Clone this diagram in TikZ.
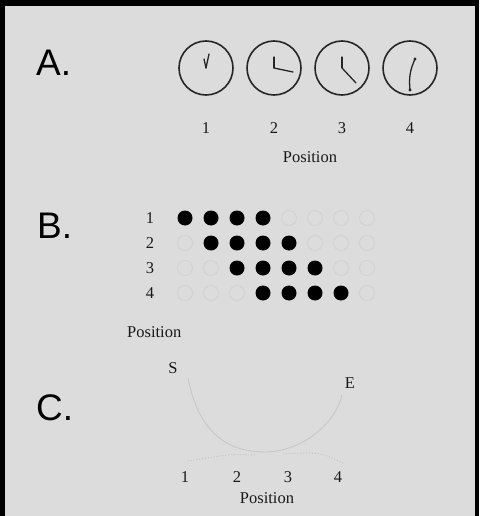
\documentclass[tikz,border=0pt]{standalone}
\usepackage{fontspec}
\setmainfont{Liberation Serif}
\newfontfamily\panelfont{Liberation Sans}
\definecolor{bggray}{HTML}{DCDCDC}
\definecolor{faint}{HTML}{D2D2D2}
\begin{document}
\begin{tikzpicture}[x=1pt,y=-1pt,
  clock/.style={circle,draw=black!85,line width=1.6pt,minimum size=54pt,inner sep=0pt},
  hand/.style={line width=1.3pt,black!85,line cap=round},
  num/.style={font=\fontsize{16.5}{16.5}\selectfont,text=black!90,inner sep=1pt},
  panel/.style={font=\panelfont\fontsize{37}{37}\selectfont,anchor=base west,inner sep=0pt},
  dot/.style={circle,fill=black,minimum size=15pt,inner sep=0pt},
  ghost/.style={circle,draw=faint,line width=.9pt,minimum size=15pt,inner sep=0pt},
  arcline/.style={black!22,line width=.9pt},
  trail/.style={black!25,line width=.9pt,dotted}]
\fill[black] (0,0) rectangle (479,516);
\fill[bggray] (5,6) rectangle (475,516);
\useasboundingbox (0,0) rectangle (479,516);
\node[panel] (lblA) at (36,76) {A.};
\node[panel] (lblB) at (37,238) {B.};
\node[panel] (lblC) at (36,420) {C.};
% A: clocks
\foreach \i/\x in {1/206,2/274,3/342,4/410}{
  \node[clock] (c\i) at (\x,68) {};
  \node[num] (n\i) at (\x,128) {\i};
}
\node[num] (posA) at (310,157) {Position};
\draw[hand] (c1.center) -- ++(3,-14);
\draw[hand] (c1.center) -- ++(-2,-9);
\draw[hand] (c2.center) -- ++(0,-11);
\draw[hand] (c2.center) -- ++(19,4);
\draw[hand] (c3.center) -- ++(0,-11);
\draw[hand] (c3.center) -- ++(14,15);
\draw[hand] (c4.center) ++(5,-9) to[bend right=15] ++(-5,31);
\fill[black!85] (c4.center) ++(5,-9) circle (1.7);
\fill[black!85] (c4.center) ++(0,22) circle (1.7);
% B: grid
\foreach \r in {1,...,4}{
  \node[num] (r\r) at (150,{218+25*(\r-1)}) {\r};
  \foreach \c in {1,...,8}{
    \pgfmathtruncatemacro\k{\c-\r}
    \ifnum\k<0 \def\sty{ghost}\else\ifnum\k>3 \def\sty{ghost}\else\def\sty{dot}\fi\fi
    \node[\sty] (g\r\c) at ({185+26*(\c-1)},{218+25*(\r-1)}) {};
  }
}
\node[num,anchor=west] (posB) at (126,332) {Position};
% C: path
\node[num] (S) at (173,368) {S};
\node[num] (E) at (350,383) {E};
\coordinate (start) at (188,378);
\coordinate (low) at (265,452);
\coordinate (end) at (342,395);
\draw[arcline] (start) .. controls (200,440) and (235,452) .. (low) .. controls (300,452) and (335,425) .. (end);
\coordinate (tl) at (188,461);
\coordinate (tr) at (345,464);
\draw[trail] (low) ++(-10,3) .. controls (230,454) .. (tl);
\draw[trail] (low) ++(18,2) .. controls (320,452) .. (tr);
\foreach \i/\x in {1/185,2/237,3/288,4/338}
  \node[num] (p\i) at (\x,477) {\i};
\node[num] (posC) at (267,498) {Position};
\end{tikzpicture}
\end{document}
